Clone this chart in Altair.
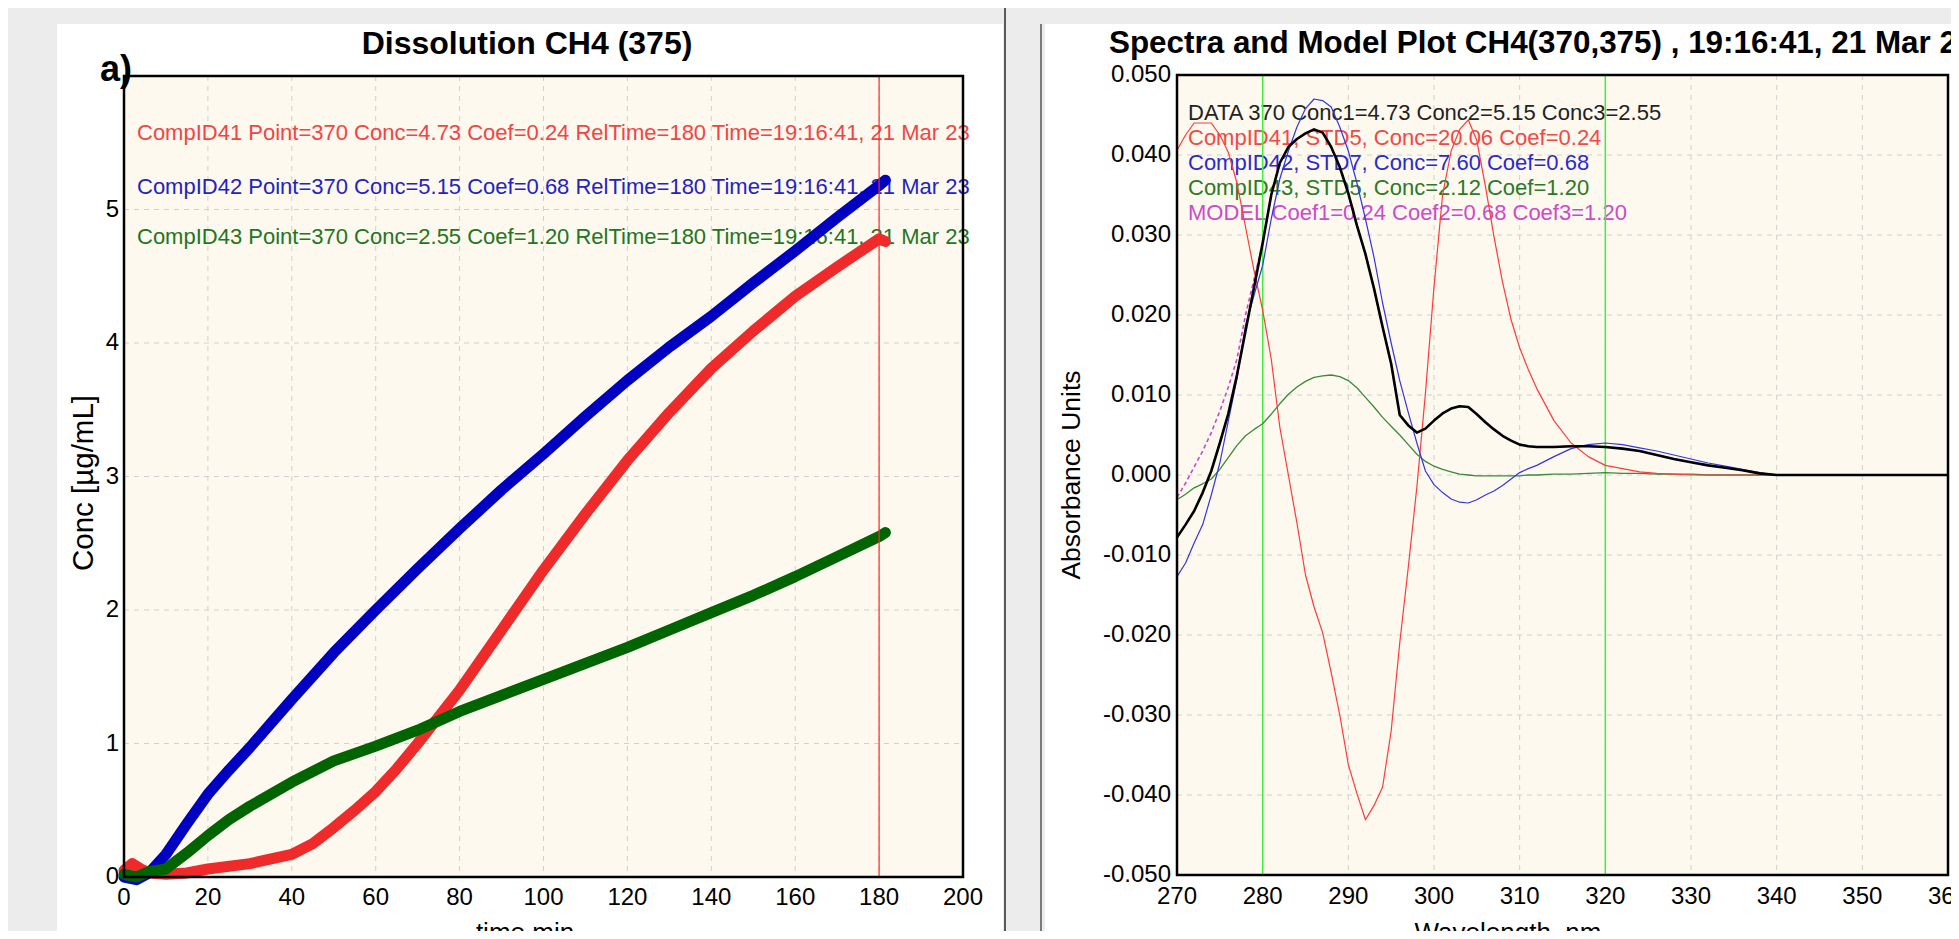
import altair as alt
import pandas as pd

FONT = "Liberation Sans"

# ---------------- Left panel data (Dissolution CH4 (375)) ----------------
t_red = [0, 2, 4, 6, 10, 15, 20, 30, 40, 45, 50, 55, 60, 65, 70, 75, 80, 90, 100, 110, 120, 130, 140, 150, 160, 170, 180, 181.5]
c_red = [0.05, 0.10, 0.06, 0.03, 0.02, 0.03, 0.06, 0.10, 0.17, 0.25, 0.37, 0.50, 0.64, 0.81, 1.00, 1.20, 1.40, 1.85, 2.30, 2.72, 3.12, 3.48, 3.81, 4.09, 4.35, 4.57, 4.78, 4.76]

t_blue = [0, 3, 6, 8, 10, 15, 20, 25, 30, 35, 40, 50, 60, 70, 80, 90, 100, 110, 120, 130, 140, 150, 160, 170, 180, 181.5]
c_blue = [0.0, -0.02, 0.03, 0.10, 0.17, 0.40, 0.62, 0.80, 0.97, 1.15, 1.33, 1.68, 2.00, 2.31, 2.61, 2.90, 3.17, 3.45, 3.72, 3.97, 4.20, 4.45, 4.69, 4.94, 5.18, 5.22]

t_green = [0, 3, 6, 10, 15, 20, 25, 30, 40, 50, 60, 70, 80, 90, 100, 110, 120, 130, 140, 150, 160, 170, 180, 181.5]
c_green = [0.02, 0.0, 0.04, 0.06, 0.18, 0.31, 0.43, 0.53, 0.71, 0.87, 0.98, 1.10, 1.24, 1.36, 1.48, 1.60, 1.72, 1.85, 1.98, 2.11, 2.25, 2.40, 2.55, 2.58]

marker_time = [180]
left_x_ticks = [0, 20, 40, 60, 80, 100, 120, 140, 160, 180, 200]
left_x_labels = ["0", "20", "40", "60", "80", "100", "120", "140", "160", "180", "200"]
left_y_ticks = [0, 1, 2, 3, 4, 5]
left_y_labels = ["0", "1", "2", "3", "4", "5"]

left_notes = [
    "CompID41 Point=370 Conc=4.73 Coef=0.24 RelTime=180 Time=19:16:41, 21 Mar 23",
    "CompID42 Point=370 Conc=5.15 Coef=0.68 RelTime=180 Time=19:16:41, 21 Mar 23",
    "CompID43 Point=370 Conc=2.55 Coef=1.20 RelTime=180 Time=19:16:41, 21 Mar 23",
]

# ---------------- Right panel data (Spectra and Model Plot) ----------------
wl = list(range(270, 313)) + list(range(314, 341, 2)) + [345, 350, 355, 360]

a_data = [-0.0078, -0.0062, -0.0045, -0.0022, 0.0005, 0.0040, 0.0077, 0.0125, 0.0180, 0.0235,
          0.0290, 0.0350, 0.0390, 0.0410, 0.0420, 0.0427, 0.0432, 0.0428, 0.0410, 0.0385,
          0.0352, 0.0312, 0.0276, 0.0233, 0.0185, 0.0139, 0.0075, 0.0062, 0.0053, 0.0058,
          0.0068, 0.0077, 0.0083, 0.0086, 0.0085, 0.0076, 0.0066, 0.0057, 0.0049, 0.0043,
          0.0038, 0.0036, 0.0035,
          0.0035, 0.0036, 0.0036, 0.0035, 0.0033, 0.0030, 0.0025, 0.0020, 0.0016, 0.0012,
          0.0009, 0.0006, 0.0002, 0.0,
          0.0, 0.0, 0.0, 0.0]

a_model = [-0.0028, -0.0010, 0.0010, 0.0030, 0.0053, 0.0080, 0.0110, 0.0145, 0.0200, 0.0245,
           0.0290, 0.0350, 0.0390, 0.0410, 0.0420, 0.0427, 0.0432, 0.0428, 0.0410, 0.0385,
           0.0352, 0.0312, 0.0276, 0.0233, 0.0185, 0.0139, 0.0075, 0.0062, 0.0053, 0.0058,
           0.0068, 0.0077, 0.0083, 0.0086, 0.0085, 0.0076, 0.0066, 0.0057, 0.0049, 0.0043,
           0.0038, 0.0036, 0.0035,
           0.0035, 0.0036, 0.0036, 0.0035, 0.0033, 0.0030, 0.0025, 0.0020, 0.0016, 0.0012,
           0.0009, 0.0006, 0.0002, 0.0,
           0.0, 0.0, 0.0, 0.0]

a_std7 = [-0.0127, -0.0110, -0.0085, -0.0062, -0.0025, 0.0015, 0.0068, 0.0120, 0.0187, 0.0225,
          0.0262, 0.0320, 0.0370, 0.0405, 0.0435, 0.0458, 0.0470, 0.0468, 0.0460, 0.0435,
          0.0405, 0.0365, 0.0320, 0.0272, 0.0215, 0.0165, 0.0118, 0.0078, 0.0040, 0.0005,
          -0.0012, -0.0022, -0.0030, -0.0034, -0.0035, -0.0031, -0.0025, -0.0020, -0.0013, -0.0005,
          0.0003, 0.0008, 0.0012,
          0.0023, 0.0033, 0.0038, 0.0040, 0.0038, 0.0034, 0.0030, 0.0025, 0.0020, 0.0015,
          0.0011, 0.0007, 0.0003, 0.0,
          0.0, 0.0, 0.0, 0.0]

a_std5_41 = [0.0406, 0.0425, 0.0440, 0.0440, 0.0440, 0.0425, 0.0403, 0.0365, 0.0310, 0.0255,
             0.0206, 0.0145, 0.0060, 0.0000, -0.0060, -0.0125, -0.0165, -0.0197, -0.0247, -0.0300,
             -0.0362, -0.0398, -0.0431, -0.0413, -0.0390, -0.0320, -0.0210, -0.0115, -0.0015, 0.0102,
             0.0235, 0.0350, 0.0405, 0.0432, 0.0444, 0.0418, 0.0361, 0.0298, 0.0241, 0.0194,
             0.0159, 0.0132, 0.0108,
             0.0068, 0.0040, 0.0023, 0.0012, 0.0008, 0.0004, 0.0002, 0.0001, 0.0, 0.0,
             0.0, 0.0, 0.0, 0.0,
             0.0, 0.0, 0.0, 0.0]

a_std5_43 = [-0.0031, -0.0024, -0.0016, -0.0011, -0.0005, 0.0007, 0.0022, 0.0037, 0.0049, 0.0057,
             0.0064, 0.0076, 0.0089, 0.0101, 0.0110, 0.0117, 0.0122, 0.0124, 0.0125, 0.0123,
             0.0118, 0.0109, 0.0097, 0.0085, 0.0072, 0.0061, 0.0050, 0.0038, 0.0026, 0.0017,
             0.0011, 0.0007, 0.0004, 0.0001, 0.0, -0.0001, -0.0001, -0.0001, -0.0001, -0.0001,
             -0.0001, 0.0, 0.0,
             0.0001, 0.0001, 0.0002, 0.0003, 0.0002, 0.0002, 0.0001, 0.0001, 0.0001, 0.0,
             0.0, 0.0, 0.0, 0.0,
             0.0, 0.0, 0.0, 0.0]

marker_wl = [280, 320]
right_x_ticks = [270, 280, 290, 300, 310, 320, 330, 340, 350, 360]
right_x_labels = ["270", "280", "290", "300", "310", "320", "330", "340", "350", "360"]
right_y_ticks = [0.05, 0.04, 0.03, 0.02, 0.01, 0.0, -0.01, -0.02, -0.03, -0.04, -0.05]
right_y_labels = ["0.050", "0.040", "0.030", "0.020", "0.010", "0.000",
                  "-0.010", "-0.020", "-0.030", "-0.040", "-0.050"]

right_notes = [
    "DATA 370 Conc1=4.73 Conc2=5.15 Conc3=2.55",
    "CompID41, STD5, Conc=20.06 Coef=0.24",
    "CompID42, STD7, Conc=7.60 Coef=0.68",
    "CompID43, STD5, Conc=2.12 Coef=1.20",
    "MODEL Coef1=0.24 Coef2=0.68 Coef3=1.20",
]

# ---------------- canvas layout (pixels from the chart origin) ----------------
CW, CH = 1943, 923
L_X0, L_X1, L_Y0, L_Y1 = 116, 955, 68, 869     # left plot box
R_X0, R_X1, R_Y0, R_Y1 = 1169, 1940, 67, 867   # right plot box
GREY = "#ececec"
CREAM = "#fdf9ee"
GRID = "#d0d0d0"

xL = alt.Scale(domain=[0, 200], range=[L_X0, L_X1], nice=False, zero=False)
yL = alt.Scale(domain=[0, 6], range=[L_Y1, L_Y0], nice=False, zero=False)
xR = alt.Scale(domain=[270, 360], range=[R_X0, R_X1], nice=False, zero=False)
yR = alt.Scale(domain=[-0.05, 0.05], range=[R_Y1, R_Y0], nice=False, zero=False)

one = pd.DataFrame({"k": [0]})


def prect(x1, x2, y1, y2, color):
    return alt.Chart(one).mark_rect(color=color, strokeWidth=0).encode(
        x=alt.value(x1), x2=alt.value(x2), y=alt.value(y1), y2=alt.value(y2))


def frame(x1, x2, y1, y2):
    return alt.Chart(one).mark_rect(filled=False, stroke="#000000", strokeWidth=2.5).encode(
        x=alt.value(x1), x2=alt.value(x2), y=alt.value(y1), y2=alt.value(y2))


def ptext(txt, x, y, size, color, weight="normal", align="left", baseline="middle", angle=0):
    return alt.Chart(one).mark_text(
        text=txt, font=FONT, fontSize=size, color=color, fontWeight=weight,
        align=align, baseline=baseline, angle=angle).encode(x=alt.value(x), y=alt.value(y))


def vgrid(vals, xs, y1, y2):
    return alt.Chart(pd.DataFrame({"v": vals})).mark_rule(
        color=GRID, strokeWidth=1, strokeDash=[5, 5]).encode(
        x=alt.X("v:Q", scale=xs, axis=None), y=alt.value(y1), y2=alt.value(y2))


def hgrid(vals, ys, x1, x2):
    return alt.Chart(pd.DataFrame({"v": vals})).mark_rule(
        color=GRID, strokeWidth=1, strokeDash=[5, 5]).encode(
        y=alt.Y("v:Q", scale=ys, axis=None), x=alt.value(x1), x2=alt.value(x2))


def xlabels(vals, labs, xs, y):
    return alt.Chart(pd.DataFrame({"v": vals, "lab": labs})).mark_text(
        font=FONT, fontSize=24, color="#000", align="center", baseline="top").encode(
        x=alt.X("v:Q", scale=xs, axis=None), y=alt.value(y), text="lab:N")


def ylabels(vals, labs, ys, x):
    return alt.Chart(pd.DataFrame({"v": vals, "lab": labs})).mark_text(
        font=FONT, fontSize=24, color="#000", align="right", baseline="middle").encode(
        y=alt.Y("v:Q", scale=ys, axis=None), x=alt.value(x), text="lab:N")


def left_series(t, c, color):
    df = pd.DataFrame({"time": t, "conc": c})
    return alt.Chart(df).mark_line(color=color, strokeWidth=11, strokeCap="round",
                                   strokeJoin="round").encode(
        x=alt.X("time:Q", scale=xL, axis=None), y=alt.Y("conc:Q", scale=yL, axis=None))


def right_series(vals, color, width, dash=None):
    df = pd.DataFrame({"wl": wl, "ab": vals})
    kw = dict(color=color, strokeWidth=width, strokeJoin="round")
    if dash:
        kw["strokeDash"] = dash
    return alt.Chart(df).mark_line(**kw).encode(
        x=alt.X("wl:Q", scale=xR, axis=None), y=alt.Y("ab:Q", scale=yR, axis=None))


layers = [
    # page furniture
    prect(0, CW, 0, 16, GREY),
    prect(0, 49, 0, CH, GREY),
    prect(995, 1037, 0, CH, GREY),
    prect(996, 998, 0, CH, "#5a5a5a"),
    prect(1032, 1034, 16, CH, "#7a7a7a"),
    # plot backgrounds
    prect(L_X0, L_X1, L_Y0, L_Y1, CREAM),
    prect(R_X0, R_X1, R_Y0, R_Y1, CREAM),
    # grids
    vgrid(left_x_ticks[1:-1], xL, L_Y0, L_Y1),
    hgrid(left_y_ticks[1:], yL, L_X0, L_X1),
    vgrid(right_x_ticks[1:-1], xR, R_Y0, R_Y1),
    hgrid(right_y_ticks[1:-1], yR, R_X0, R_X1),
    # tick labels
    xlabels(left_x_ticks, left_x_labels, xL, L_Y1 + 9),
    ylabels(left_y_ticks, left_y_labels, yL, L_X0 - 5),
    xlabels(right_x_ticks, right_x_labels, xR, R_Y1 + 10),
    ylabels(right_y_ticks, right_y_labels, yR, R_X0 - 6),
    # annotations
    ptext(left_notes[0], 129, 125, 22, "#f24444"),
    ptext(left_notes[1], 129, 179, 22, "#2323c4"),
    ptext(left_notes[2], 129, 229, 22, "#237523"),
    ptext(right_notes[0], 1180, 105, 22, "#222222"),
    ptext(right_notes[1], 1180, 130, 22, "#f24848"),
    ptext(right_notes[2], 1180, 155, 22, "#2a2ad0"),
    ptext(right_notes[3], 1180, 180, 22, "#2a7a2a"),
    ptext(right_notes[4], 1180, 205, 22, "#cc4acc"),
    # left data
    left_series(t_red, c_red, "#ee2a2a"),
    left_series(t_blue, c_blue, "#0000c2"),
    left_series(t_green, c_green, "#006400"),
    alt.Chart(pd.DataFrame({"time": marker_time})).mark_rule(color="#ff2a2a", strokeWidth=1.2).encode(
        x=alt.X("time:Q", scale=xL, axis=None), y=alt.value(L_Y0), y2=alt.value(L_Y1)),
    # right data
    alt.Chart(pd.DataFrame({"wl": marker_wl})).mark_rule(color="#3cf03c", strokeWidth=1.5).encode(
        x=alt.X("wl:Q", scale=xR, axis=None), y=alt.value(R_Y0), y2=alt.value(R_Y1)),
    right_series(a_std5_43, "#3a8a3a", 1.3),
    right_series(a_std5_41, "#ff3a3a", 1.2),
    right_series(a_std7, "#3535e0", 1.2),
    right_series(a_model, "#cc44cc", 1.6, [4, 3]),
    right_series(a_data, "#000000", 2.6),
    # frames
    frame(L_X0, L_X1, L_Y0, L_Y1),
    frame(R_X0, R_X1, R_Y0, R_Y1),
    # titles
    ptext("Dissolution CH4 (375)", 519, 36, 32, "#000", weight="bold", align="center"),
    ptext("Spectra and Model Plot CH4(370,375) , 19:16:41, 21 Mar 23", 1101, 36, 31.4, "#000",
          weight="bold", align="left"),
    ptext("a)", 92, 73, 36, "#000", weight="bold", baseline="alphabetic"),
    ptext("Conc [µg/mL]", 76, 475, 29.5, "#000", align="center", angle=270),
    ptext("Absorbance Units", 1064, 467, 26.5, "#000", align="center", angle=270),
    ptext("time,min", 517, 912, 26, "#000", align="center", baseline="top"),
    ptext("Wavelength, nm", 1500, 912, 26, "#000", align="center", baseline="top"),
]

chart = alt.layer(*layers).resolve_scale(x="independent", y="independent").properties(
    width=CW, height=CH, padding=0, background="white",
    autosize=alt.AutoSizeParams(type="none"),
).configure_view(stroke="transparent", fill="white")

chart.save("out.html", embed_options={"renderer": "svg", "actions": False})
